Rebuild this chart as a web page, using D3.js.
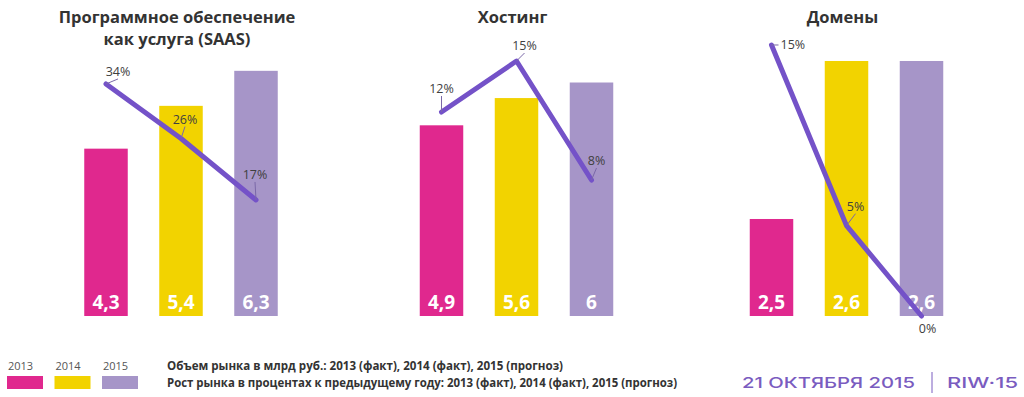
<!DOCTYPE html>
<html>
<head>
<meta charset="utf-8">
<script src="https://cdn.jsdelivr.net/npm/d3@7"></script>
<style>
  html, body { margin: 0; padding: 0; background: #fff; }
  svg { display: block; font-family: 'Open Sans', sans-serif; }
</style>
</head>
<body>
<svg id="chart"></svg>
<script>
const WIDTH = 1024;
const HEIGHT = 397;
const BASELINE = 316;
const STEP = 75;
const COLORS = ['#e0288e', '#f2d300', '#a695c8'];
const LINE_COLOR = '#7452c8';

// data
const YEARS = ['2013', '2014', '2015'];
const TITLES = [
  ['Программное обеспечение', 'как услуга (SAAS)'],
  ['Хостинг'],
  ['Домены']
];
const VOLUME_SAAS = [4.3, 5.4, 6.3];
const VOLUME_HOSTING = [4.9, 5.6, 6];
const VOLUME_DOMAINS = [2.5, 2.6, 2.6];
const GROWTH_SAAS = [34, 26, 17];
const GROWTH_HOSTING = [12, 15, 8];
const GROWTH_DOMAINS = [15, 5, 0];
const LEGEND_LINES = [
  'Объем рынка в млрд руб.: 2013 (факт), 2014 (факт), 2015 (прогноз)',
  'Рост рынка в процентах к предыдущему году: 2013 (факт), 2014 (факт), 2015 (прогноз)'
];

// per-panel layout (axis domains are auto-scaled per panel in the original)
const PANELS = [
  { title: TITLES[0], volume: VOLUME_SAAS, growth: GROWTH_SAAS, cx: 181,
    barDomain: [0, 8.12], pctDomain: [0, 46.3],
    labels: [[12, -8, 'middle'], [4, -15, 'middle'], [-1, -21, 'middle']] },
  { title: TITLES[1], volume: VOLUME_HOSTING, growth: GROWTH_HOSTING, cx: 516.5,
    barDomain: [0, 8.12], pctDomain: [0, 18.59],
    labels: [[0, -19, 'middle'], [8, -11, 'middle'], [5, -15, 'middle']] },
  { title: TITLES[2], volume: VOLUME_DOMAINS, growth: GROWTH_DOMAINS, cx: 846.5,
    barDomain: [2.4386, 2.6386], pctDomain: [0, 17.49],
    labels: [[9, 4, 'start'], [9, -15, 'middle'], [6, 17, 'middle']] }
];

const svg = d3.select('#chart')
  .attr('width', WIDTH)
  .attr('height', HEIGHT);

const fmt = v => String(v).replace('.', ',');

PANELS.forEach(p => {
  const g = svg.append('g');

  const x = d3.scaleBand()
    .domain(YEARS)
    .range([p.cx - STEP * 1.5, p.cx + STEP * 1.5])
    .paddingInner(0.42)
    .paddingOuter(0.21);
  const y = d3.scaleLinear().domain(p.barDomain).range([BASELINE, 0]);
  const yPct = d3.scaleLinear().domain(p.pctDomain).range([BASELINE, 0]);
  const cx = d => x(d) + x.bandwidth() / 2;

  // title, one text per line
  g.selectAll('.title')
    .data(p.title)
    .join('text')
      .attr('class', 'title')
      .attr('text-anchor', 'middle')
      .attr('x', p.cx - 4)
      .attr('y', (d, i) => 23 + i * 22)
      .style('font-size', '16.5px')
      .style('font-weight', 700)
      .style('fill', '#333')
      .text(d => d);

  // bars
  g.selectAll('rect')
    .data(p.volume)
    .join('rect')
      .attr('x', (d, i) => x(YEARS[i]))
      .attr('y', d => y(d))
      .attr('width', x.bandwidth())
      .attr('height', d => BASELINE - y(d))
      .attr('fill', (d, i) => COLORS[i]);

  g.selectAll('.bar-label')
    .data(p.volume)
    .join('text')
      .attr('class', 'bar-label')
      .attr('text-anchor', 'middle')
      .attr('x', (d, i) => cx(YEARS[i]))
      .attr('y', BASELINE - 7)
      .style('font-size', '19px')
      .style('font-weight', 700)
      .style('fill', '#fff')
      .text(fmt);

  // growth line
  const pts = p.growth.map((v, i) => [cx(YEARS[i]), yPct(v)]);

  g.append('path')
    .attr('d', d3.line()(pts))
    .attr('fill', 'none')
    .attr('stroke', LINE_COLOR)
    .attr('stroke-width', 5)
    .attr('stroke-linecap', 'round')
    .attr('stroke-linejoin', 'round');

  // leader lines + percent labels
  pts.forEach(([px, py], i) => {
    const [dx, dy, anchor] = p.labels[i];
    if (anchor === 'start') {
      g.append('line')
        .attr('x1', px).attr('y1', py)
        .attr('x2', px + dx - 2).attr('y2', py + dy - 4)
        .attr('stroke', '#7a68a8').attr('stroke-width', 1);
    } else if (dy < 0) {
      g.append('line')
        .attr('x1', px).attr('y1', py)
        .attr('x2', px + dx).attr('y2', py + dy + 3)
        .attr('stroke', '#7a68a8').attr('stroke-width', 1);
    }
    g.append('text')
      .attr('text-anchor', anchor)
      .attr('x', px + dx)
      .attr('y', py + dy)
      .style('font-size', '12.5px')
      .style('fill', '#404040')
      .text(p.growth[i] + '%');
  });
});

// legend
const legend = svg.append('g');
YEARS.forEach((yr, i) => {
  legend.append('text')
    .attr('x', 8 + i * 47.5)
    .attr('y', 370)
    .style('font-size', '11px')
    .style('fill', '#555')
    .text(yr);
  legend.append('rect')
    .attr('x', 7 + i * 47.5)
    .attr('y', 376)
    .attr('width', 36)
    .attr('height', 13)
    .attr('fill', COLORS[i]);
});

legend.selectAll('.legend-line')
  .data(LEGEND_LINES)
  .join('text')
    .attr('class', 'legend-line')
    .attr('x', 167)
    .attr('y', (d, i) => 370 + i * 17)
    .attr('textLength', (d, i) => i ? 510 : 396)
    .attr('lengthAdjust', 'spacingAndGlyphs')
    .style('font-size', '11.5px')
    .style('font-weight', 700)
    .style('fill', '#333')
    .text(d => d);

// footer
const footer = svg.append('g')
  .style('fill', '#7a5cc0')
  .style('font-family', 'Inter, sans-serif')
  .style('font-weight', 500)
  .style('font-size', '15px');

footer.append('text')
  .attr('x', 742)
  .attr('y', 388)
  .attr('textLength', 173)
  .attr('lengthAdjust', 'spacingAndGlyphs')
  .text('21 ОКТЯБРЯ 2015');

footer.append('line')
  .attr('x1', 932).attr('x2', 932)
  .attr('y1', 372).attr('y2', 393)
  .attr('stroke', '#7a5cc0')
  .attr('stroke-width', 1);

footer.append('text')
  .attr('x', 947)
  .attr('y', 388)
  .attr('textLength', 71)
  .attr('lengthAdjust', 'spacingAndGlyphs')
  .text('RIW·15');
</script>
</body>
</html>
